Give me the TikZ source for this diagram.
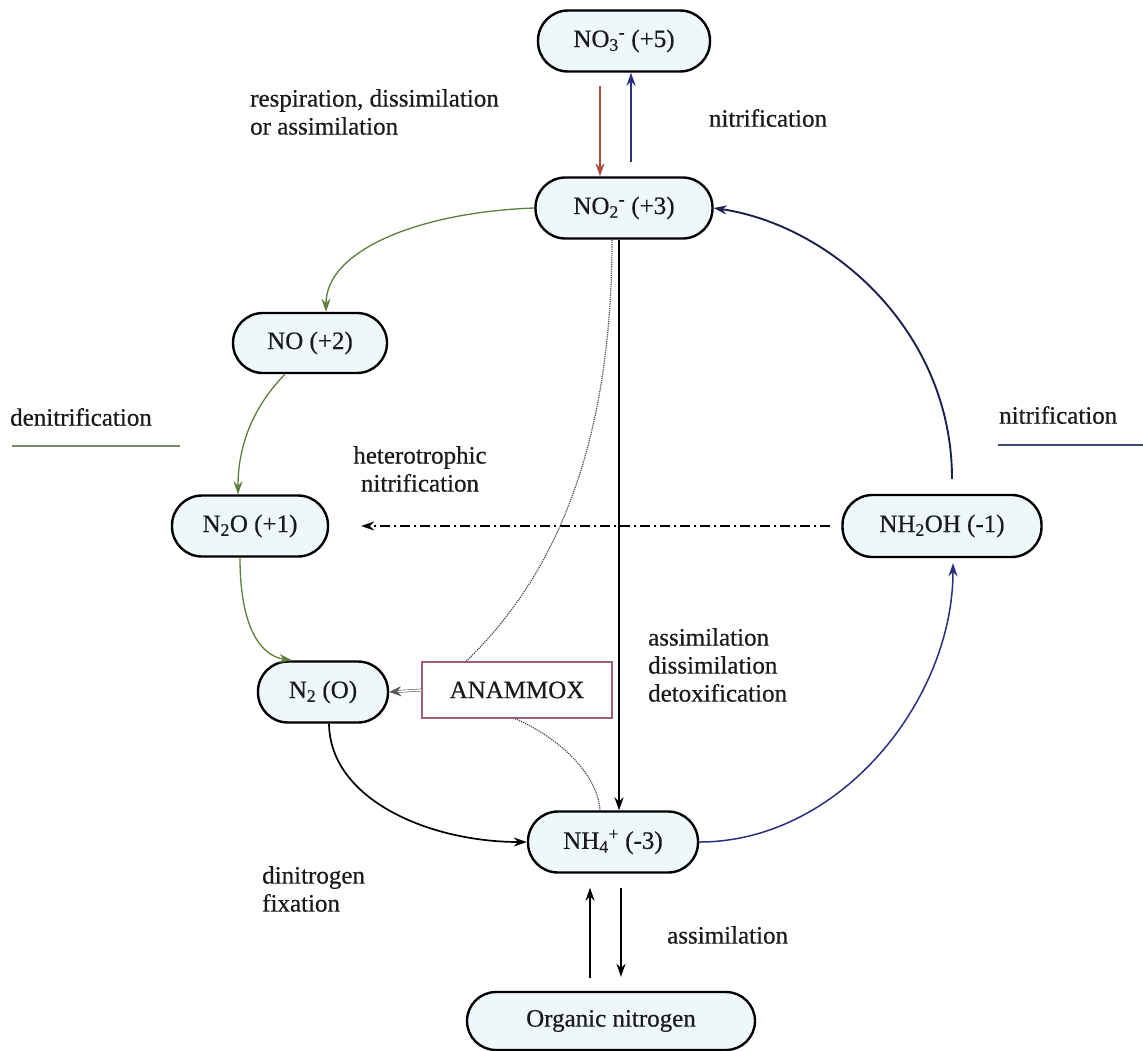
\documentclass[tikz,border=0pt]{standalone}
\usepackage{fontspec}
\setmainfont{Liberation Serif}[FakeBold=0.5]
\usetikzlibrary{arrows.meta}
\definecolor{nodefill}{HTML}{EEF8FB}
\definecolor{txt}{HTML}{1A1A1A}
\definecolor{redarr}{HTML}{B04A3A}
\definecolor{bluearr}{HTML}{2A3080}
\definecolor{navyarr}{HTML}{1C2250}
\definecolor{greenarr}{HTML}{5E7E3E}
\definecolor{anamred}{HTML}{A06070}
\definecolor{dnline}{HTML}{7A8A6A}
\definecolor{niline}{HTML}{3A4A7A}
\begin{document}
\begin{tikzpicture}[x=1pt,y=-1pt,
  font=\fontsize{25}{28}\selectfont,
  species/.style={draw=black, line width=2.4pt, fill=nodefill, rounded corners=30pt,
    minimum height=61pt, inner sep=0pt, text=txt},
  lbl/.style={text=txt, align=left, inner sep=0pt},
  tip/.style={-{Stealth[length=13pt,width=9pt]}},
  blk/.style={tip, draw=black, line width=1.7pt},
  grn/.style={tip, draw=greenarr, line width=1.3pt},
  dotl/.style={draw=gray!60!black, line width=1.2pt, densely dotted},
]
\useasboundingbox (0,0) rectangle (1143,1050);
\fill[white] (0,0) rectangle (1143,1050);

% nodes
\node[species, minimum width=172pt] (no3) at (624,41) {NO\textsubscript{3}\textsuperscript{-} (+5)};
\node[species, minimum width=177pt] (no2) at (624,208) {NO\textsubscript{2}\textsuperscript{-} (+3)};
\node[species, minimum width=154pt, minimum height=60pt] (no) at (310,343) {NO (+2)};
\node[species, minimum width=156pt] (n2o) at (250,526) {N\textsubscript{2}O (+1)};
\node[species, minimum width=130pt] (n2) at (323,692) {N\textsubscript{2} (O)};
\node[draw=anamred, line width=1.3pt, fill=white, minimum width=190pt, minimum height=56pt,
      inner sep=0pt, text=txt] (anam) at (517,690) {ANAMMOX};
\node[species, minimum width=170pt] (nh4) at (613,842) {NH\textsubscript{4}\textsuperscript{+} (-3)};
\node[species, minimum width=199pt, minimum height=62pt] (nh2oh) at (942,526) {NH\textsubscript{2}OH (-1)};
\node[species, minimum width=288pt, minimum height=58pt, rounded corners=29pt] (org) at (611,1021) {Organic nitrogen};

% labels
\node[lbl, anchor=west] (lresp) at (250,112) {respiration, dissimilation\\or assimilation};
\node[lbl] (lnit1) at (768,118) {nitrification};
\node[lbl, anchor=west] (ldenit) at (10,417) {denitrification};
\node[lbl, anchor=west] (lnit2) at (999,415) {nitrification};
\node[lbl, align=center] (lhet) at (420,469) {heterotrophic\\nitrification};
\node[lbl, anchor=west] (lass) at (648,665) {assimilation\\dissimilation\\detoxification};
\node[lbl, anchor=west] (ldin) at (262,889) {dinitrogen\\fixation};
\node[lbl, anchor=west] (lass2) at (667,935) {assimilation};

% underlines
\draw[dnline, line width=1.6pt] (12,446) -- (180,446);
\draw[niline, line width=1.6pt] (998,445) -- (1143,445);

% connectors
\draw[tip, draw=redarr, line width=1.3pt] ([xshift=-24pt,yshift=-13pt]no3.south) -- ([xshift=-24pt]no2.north);
\draw[tip, draw=bluearr, line width=1.7pt] ([xshift=7pt,yshift=14pt]no2.north) -- ([xshift=7pt]no3.south);
\draw[grn] (no2.west) .. controls (420,212) and (326,250) .. ([xshift=16pt]no.north);
\draw[grn] ([xshift=-25pt]no.south) .. controls (250,410) and (238,450) .. ([xshift=-12pt]n2o.north);
\draw[grn] ([xshift=-10pt]n2o.south) .. controls (240,630) and (262,656) .. ([xshift=-31pt]n2.north);
\draw[blk] ([xshift=6pt]n2.south) .. controls (330,800) and (430,842) .. (nh4.west);
\draw[tip, draw=bluearr, line width=1.5pt] (nh4.east) .. controls (840,842) and (953,700) .. ([xshift=11pt,yshift=-5pt]nh2oh.south);
\draw[tip, draw=navyarr, line width=1.9pt] ([xshift=10pt,yshift=15pt]nh2oh.north) .. controls (952,330) and (830,225) .. (no2.east);
\draw[blk] ([xshift=-5pt]no2.south) -- ([xshift=6pt]nh4.north);
\draw[tip, draw=black, line width=1.4pt, dash pattern=on 10pt off 4pt on 2pt off 4pt] ([xshift=-11pt]nh2oh.west) -- ([xshift=32pt]n2o.east);
\draw[dotl] ([xshift=-12pt]no2.south) .. controls (612,470) and (540,590) .. ([xshift=-51pt]anam.north);
\draw[dotl] ([xshift=-2pt]anam.south) .. controls (560,738) and (598,775) .. ([xshift=-13pt]nh4.north);
\draw[-{Stealth[length=12pt,width=10pt]}, draw=gray!70!black, double=white, double distance=1.5pt, line width=0.6pt] (anam.west) -- (n2.east);
\draw[blk] ([xshift=-21pt,yshift=13pt]org.north) -- ([xshift=-23pt,yshift=-14pt]nh4.south);
\draw[blk] ([xshift=8pt,yshift=-14pt]nh4.south) -- ([xshift=10pt,yshift=14pt]org.north);
\end{tikzpicture}
\end{document}
